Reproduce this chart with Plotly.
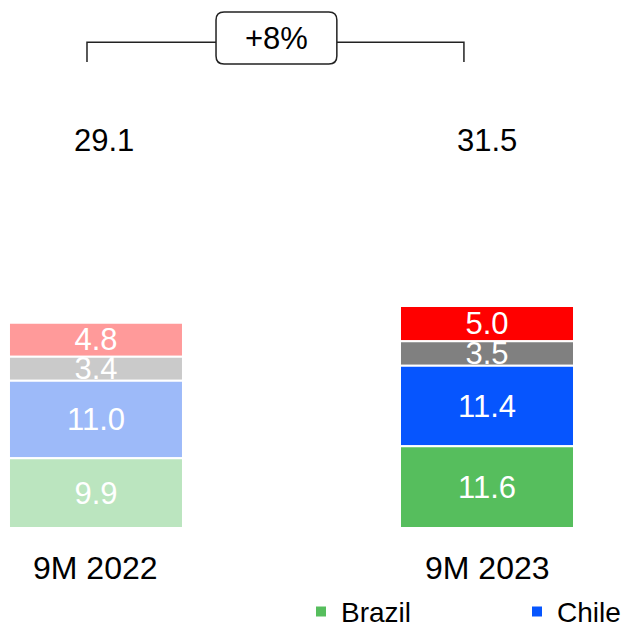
import plotly.graph_objects as go

categories = ["9M 2022", "9M 2023"]
brazil = [9.9, 11.6]
chile = [11.0, 11.4]
other_grey = [3.4, 3.5]
other_red = [4.8, 5.0]
totals = [29.1, 31.5]
growth_label = "+8%"

series_names = ["Brazil", "Chile", "Other", "Other 2"]
series_values = [brazil, chile, other_grey, other_red]
colors_2022 = ["#bbe5bf", "#9dbaf9", "#cacaca", "#ff9a9a"]
colors_2023 = ["#56be5d", "#0655fe", "#808080", "#ff0000"]
year_colors = [colors_2022, colors_2023]

FONT = "Liberation Sans, Arial, sans-serif"
FS = 31
xpos = list(range(len(categories)))
legend_ids = {"Brazil": "legend", "Chile": "legend2"}

fig = go.Figure()
for i, cat in enumerate(categories):
    # bases of the stacked segments (cumulative sums of the series below)
    bases = []
    acc = 0.0
    for s in range(len(series_names)):
        bases.append(acc)
        acc += series_values[s][i]
    # draw the top segment first so lower segments cover overflowing labels
    for s in reversed(range(len(series_names))):
        name = series_names[s]
        v = series_values[s][i]
        fig.add_trace(go.Bar(
            x=[xpos[i]], y=[v], base=[bases[s]], name=name,
            marker=dict(color=year_colors[i][s], line=dict(color="white", width=2)),
            width=0.445,
            text=[f"{v:.1f}"], textposition="inside", insidetextanchor="middle",
            textangle=0, constraintext="none",
            textfont=dict(color="white", size=FS, family=FONT),
            showlegend=(i == 1 and name in legend_ids),
            legend=legend_ids.get(name, "legend"),
            hoverinfo="skip",
        ))

# totals and category labels
for i, cat in enumerate(categories):
    fig.add_annotation(x=xpos[i], y=55, text=f"{totals[i]:.1f}", showarrow=False,
                       xshift=8 if i == 0 else 0,
                       font=dict(size=FS, color="black", family=FONT))
    fig.add_annotation(x=xpos[i], y=-5.7, text=cat, showarrow=False,
                       font=dict(size=32, color="black", family=FONT))

# bracket with rounded box
xl, xr = xpos[0] - 0.023, xpos[1] - 0.059
yb, yt = 66.1, 68.9
bx0, bx1, by0, by1 = 0.307, 0.616, 65.8, 73.2
rx, ry = 0.0205, 1.135
fig.add_shape(type="path", path=f"M{xl},{yb} L{xl},{yt} L{bx0},{yt} M{bx1},{yt} L{xr},{yt} L{xr},{yb}",
              line=dict(color="#222222", width=1.5))
box = (f"M{bx0+rx},{by0} L{bx1-rx},{by0} Q{bx1},{by0} {bx1},{by0+ry} L{bx1},{by1-ry} "
       f"Q{bx1},{by1} {bx1-rx},{by1} L{bx0+rx},{by1} Q{bx0},{by1} {bx0},{by1-ry} "
       f"L{bx0},{by0+ry} Q{bx0},{by0} {bx0+rx},{by0} Z")
fig.add_shape(type="path", path=box, line=dict(color="#222222", width=1.5), fillcolor="white")
fig.add_annotation(x=(bx0 + bx1) / 2, y=(by0 + by1) / 2, text=growth_label, showarrow=False,
                   font=dict(size=FS, color="black", family=FONT))

leg_common = dict(orientation="h", yanchor="middle", y=0.034, xanchor="left",
                  font=dict(size=28, color="black", family=FONT),
                  bgcolor="rgba(0,0,0,0)", borderwidth=0)
fig.update_layout(
    width=629, height=625, autosize=False,
    margin=dict(l=0, r=0, t=0, b=0, autoexpand=False),
    barmode="overlay",
    paper_bgcolor="white", plot_bgcolor="white",
    xaxis=dict(range=[-0.225, 1.3836], visible=False, fixedrange=True),
    yaxis=dict(range=[-14.89, 73.76], visible=False, fixedrange=True),
    showlegend=True,
    legend=dict(x=293 / 629, **leg_common),
    legend2=dict(x=509 / 629, **leg_common),
    font=dict(family=FONT),
)

fig.write_html("out.html")
